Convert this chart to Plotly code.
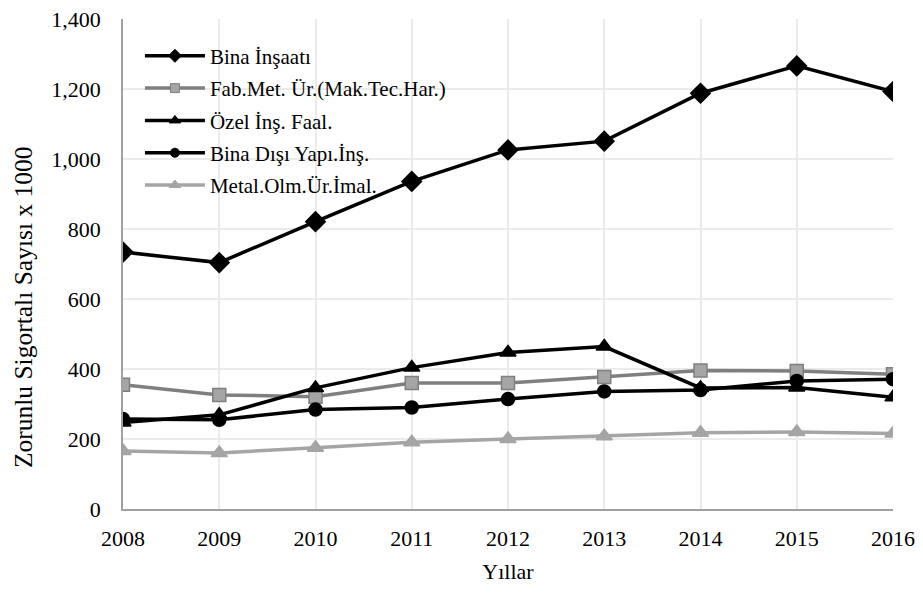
import plotly.graph_objects as go

years = [2008, 2009, 2010, 2011, 2012, 2013, 2014, 2015, 2016]
bina_insaati = [734, 704, 821, 936, 1026, 1051, 1188, 1266, 1193]
fab_met = [355, 326, 321, 360, 360, 377, 396, 394, 385]
ozel_ins = [247, 269, 346, 404, 447, 464, 346, 347, 319]
bina_disi = [257, 255, 284, 290, 314, 336, 340, 366, 371]
metal_olm = [166, 160, 175, 191, 200, 208, 218, 220, 216]

names = ["Bina İnşaatı", "Fab.Met. Ür.(Mak.Tec.Har.)", "Özel İnş. Faal.",
         "Bina Dışı Yapı.İnş.", "Metal.Olm.Ür.İmal."]
y_ticks = [0, 200, 400, 600, 800, 1000, 1200, 1400]

FONT = "Liberation Serif"

series = [
    (names[0], bina_insaati, "#000000", "diamond", "#000000", "#000000", 15, 10),
    (names[1], fab_met, "#7f7f7f", "square", "#a5a5a5", "#7f7f7f", 13, 9),
    (names[2], ozel_ins, "#000000", "triangle-up", "#000000", "#000000", 14, 10),
    (names[3], bina_disi, "#000000", "circle", "#000000", "#000000", 13, 9),
    (names[4], metal_olm, "#a5a5a5", "triangle-up", "#a5a5a5", "#a5a5a5", 14, 10),
]

fig = go.Figure()
for i, (nm, vals, lc, sym, mfill, mline, msize, lsize) in enumerate(series):
    fig.add_trace(go.Scatter(
        x=years, y=vals, name=nm, mode="lines+markers",
        legendgroup=f"g{i}", showlegend=False,
        line=dict(color=lc, width=3.5),
        marker=dict(symbol=sym, size=msize, color=mfill,
                    line=dict(color=mline, width=1.5)),
    ))
# legend entries (smaller symbols, as in the reference legend)
for i, (nm, vals, lc, sym, mfill, mline, msize, lsize) in enumerate(series):
    fig.add_trace(go.Scatter(
        x=[None], y=[None], name=nm, mode="lines+markers",
        legendgroup=f"g{i}", showlegend=True,
        line=dict(color=lc, width=3.5),
        marker=dict(symbol=sym, size=lsize, color=mfill,
                    line=dict(color=mline, width=1)),
    ))

# page has an 8px body margin, so the figure is 8px smaller than the window
fig.update_layout(
    width=915, height=590,
    margin=dict(l=115, r=30, t=11, b=89),
    paper_bgcolor="white", plot_bgcolor="white",
    font=dict(family=FONT, size=22, color="#000000"),
    showlegend=True,
    legend=dict(
        x=0.022, y=0.966, xanchor="left", yanchor="top",
        bgcolor="rgba(0,0,0,0)", borderwidth=0,
        font=dict(family=FONT, size=21, color="#000000"),
        traceorder="grouped", tracegroupgap=2,
        itemwidth=60,
    ),
    annotations=[dict(
        text="Zorunlu Sigortalı Sayısı x 1000", textangle=-90,
        xref="paper", yref="paper", x=-0.1299, y=0.412,
        xanchor="center", yanchor="middle", showarrow=False,
        font=dict(family=FONT, size=25.5, color="#000000"),
    )],
)

fig.update_xaxes(
    range=[2008, 2016], tickmode="array", tickvals=years,
    ticktext=[str(y) for y in years],
    showgrid=True, gridcolor="#ebebeb", gridwidth=1.5,
    showline=True, linecolor="#a0a0a0", linewidth=1.5,
    ticks="outside", ticklen=9, tickcolor="rgba(0,0,0,0)",
    zeroline=False, automargin=False, ticklabeloverflow="allow",
    tickfont=dict(family=FONT, size=22),
    title=dict(text="Yıllar", font=dict(family=FONT, size=22), standoff=13),
)
fig.update_yaxes(
    range=[0, 1400], tickmode="array", tickvals=y_ticks,
    ticktext=[f"{v:,}" for v in y_ticks],
    showgrid=True, gridcolor="#ebebeb", gridwidth=1.5,
    showline=True, linecolor="#a0a0a0", linewidth=1.5,
    ticks="outside", ticklen=16, tickcolor="rgba(0,0,0,0)",
    zeroline=False, automargin=False, ticklabeloverflow="allow",
    tickfont=dict(family=FONT, size=22),
)

fig.write_html("out.html")
